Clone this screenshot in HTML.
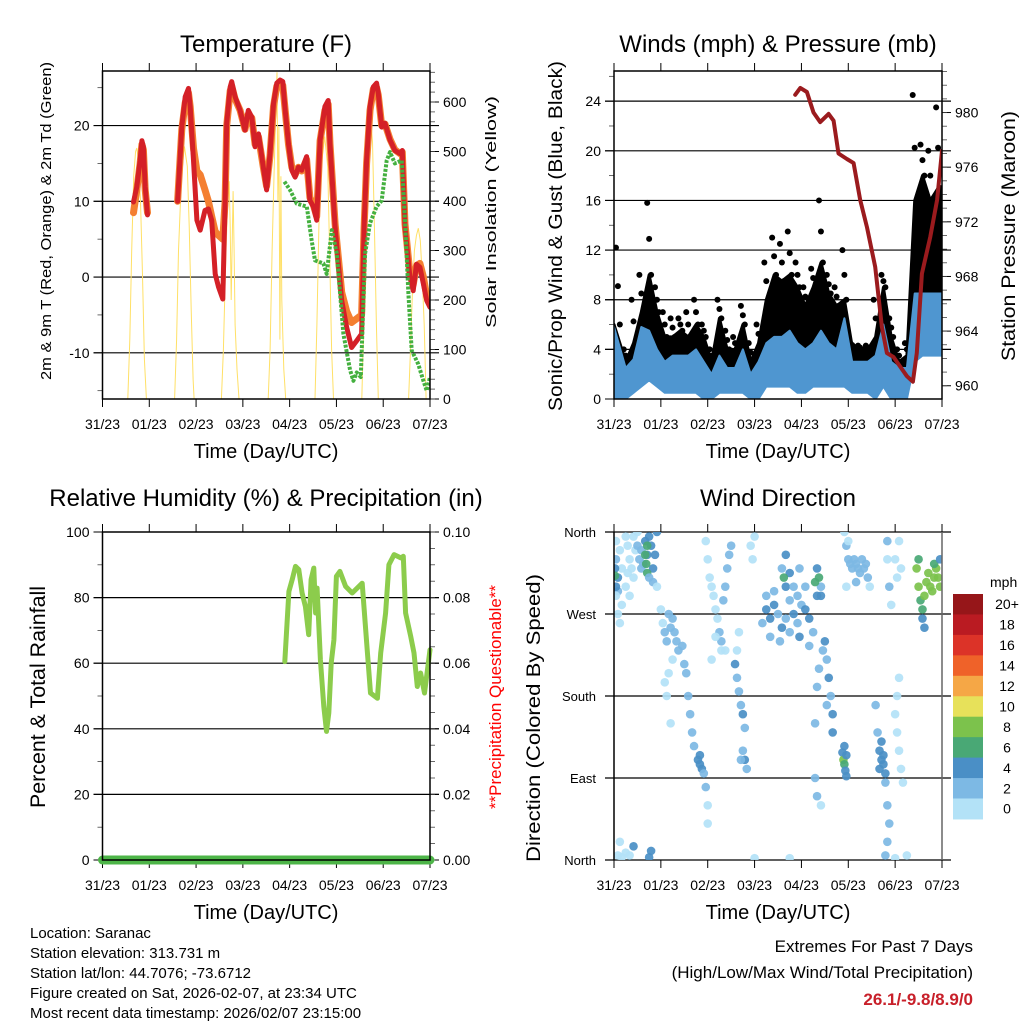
<!DOCTYPE html>
<html><head><meta charset="utf-8"><style>
html,body{margin:0;padding:0;background:#fff;}
svg{display:block;font-family:"Liberation Sans",Arial,sans-serif;}
</style></head><body>
<svg id="chart" width="1024" height="1024" viewBox="0 0 1024 1024" xmlns="http://www.w3.org/2000/svg">
<defs>
<clipPath id="c1"><rect x="102.5" y="71" width="327.5" height="328"/></clipPath>
<clipPath id="c2"><rect x="614" y="71" width="328" height="328"/></clipPath>
<clipPath id="c3"><rect x="90" y="520" width="352" height="352"/></clipPath>
<clipPath id="c4"><rect x="614" y="532" width="328" height="328"/></clipPath>
</defs>
<text x="266" y="52" font-size="24" text-anchor="middle">Temperature (F)</text>
<text x="778" y="52" font-size="24" text-anchor="middle">Winds (mph) &amp; Pressure (mb)</text>
<text x="266" y="506" font-size="24" text-anchor="middle">Relative Humidity (%) &amp; Precipitation (in)</text>
<text x="778" y="506" font-size="24" text-anchor="middle">Wind Direction</text>

<text transform="translate(51,221) rotate(-90)" font-size="15" text-anchor="middle" textLength="318" lengthAdjust="spacingAndGlyphs">2m &amp; 9m T (Red, Orange) &amp; 2m Td (Green)</text>
<text transform="translate(496,212) rotate(-90)" font-size="15" text-anchor="middle" textLength="232" lengthAdjust="spacingAndGlyphs">Solar Insolation (Yellow)</text>
<text transform="translate(562,236) rotate(-90)" font-size="19" text-anchor="middle" textLength="350" lengthAdjust="spacingAndGlyphs">Sonic/Prop Wind &amp; Gust (Blue, Black)</text>
<text transform="translate(1015,236) rotate(-90)" font-size="19" text-anchor="middle" textLength="250" lengthAdjust="spacingAndGlyphs">Station Pressure (Maroon)</text>
<text transform="translate(45,697) rotate(-90)" font-size="21" text-anchor="middle" textLength="222" lengthAdjust="spacingAndGlyphs">Percent &amp; Total Rainfall</text>
<text transform="translate(501,697) rotate(-90)" font-size="17" fill="#ff0000" text-anchor="middle" textLength="224" lengthAdjust="spacingAndGlyphs">**Precipitation Questionable**</text>
<text transform="translate(540,718) rotate(-90)" font-size="19" text-anchor="middle" textLength="288" lengthAdjust="spacingAndGlyphs">Direction (Colored By Speed)</text>

<text x="266" y="458" font-size="20" text-anchor="middle">Time (Day/UTC)</text>
<text x="778" y="458" font-size="20" text-anchor="middle">Time (Day/UTC)</text>
<text x="266" y="919" font-size="20" text-anchor="middle">Time (Day/UTC)</text>
<text x="778" y="919" font-size="20" text-anchor="middle">Time (Day/UTC)</text>

<g font-size="15">
<text x="30" y="938">Location: Saranac</text>
<text x="30" y="958">Station elevation: 313.731 m</text>
<text x="30" y="978">Station lat/lon: 44.7076; -73.6712</text>
<text x="30" y="998">Figure created on Sat, 2026-02-07, at 23:34 UTC</text>
<text x="30" y="1018">Most recent data timestamp: 2026/02/07 23:15:00</text>
</g>
<g text-anchor="end">
<text x="973" y="952" font-size="17">Extremes For Past 7 Days</text>
<text x="973" y="978" font-size="17">(High/Low/Max Wind/Total Precipitation)</text>
<text x="973" y="1005" font-size="17" font-weight="bold" fill="#c8202a">26.1/-9.8/8.9/0</text>
</g>
</svg>
<script>
const dayLabels=['31/23','01/23','02/23','03/23','04/23','05/23','06/23','07/23'];
// Temperature (F)
const tH=[15.9,17.6,19.3,20.2,21,21.9,23.1,30,38.5,40.7,42.4,44.1,45,46.7,48.4,50.1,52.6,54.3,56,57.8,59.5,61.7,62.9,63.7,65.5,66.3,68,70.6,73.1,74.8,76.6,78.3,80,82.5,84.2,85.9,87.7,89.4,91.1,92.5,93.7,95.4,97.1,98.8,100.5,102.2,104.7,106.4,108.2,109.9,111.6,114.1,115.8,116.7,119.3,122.7,125.2,127.8,130.4,132.9,134.2,135.5,137.2,138.9,140.6,141.5,143.2,144.9,147.5,150,152.6,153.8,155.2,157.7,159.4,161.1,162.8,164.6,166.3,168];
const tRed=[9.9,11.9,15.4,18,17.2,11.9,8.2,null,10,19.8,23.8,24.9,22.5,15.4,7.5,6.2,8.8,9,7.5,0.4,-1.3,-2.9,10.1,20.3,25.1,25.8,23.8,22,19.4,22,21.1,17.2,18.9,14.5,11.5,16.3,22.9,25.6,26,25.8,22,17.6,14.1,13.2,14.5,14.1,15.9,10.1,9.3,7.5,18.1,22.5,23.3,17.6,6.6,-3.1,-6.6,-9.3,-8.4,-7.5,6.6,15.4,22.5,25.1,25.6,24.2,19.8,20.3,18.1,16.7,16.3,16.7,6.6,0,-1.8,1.7,1.3,-0.9,-3.1,-4];
const tOrange=[8.5,11.5,15,17.5,16.8,11.5,8.5,null,10,19.5,23,24.3,22.5,17,14,13.5,11.5,10,8,6,5.5,5,10,20,24.6,25.2,23.5,22,19.5,21.5,21,17.5,18.5,14.5,12,16,22.5,25.2,25.5,25.3,22,17.5,14.5,13.5,14.5,14,15.5,10.5,9.5,8,18,22,22.8,17.6,7,-2,-4.5,-6,-5.5,-5,6.5,15,22,24.8,25,24,20,20.2,18.2,16.8,16.3,16.5,7,0.5,-1,1.5,1.8,0,-2.5,-3.5];
const gH=[93.3,96.2,99.6,104.8,107.3,109,113.3,115,117.6,120.2,123.6,127,128.7,130.4,132.5,134.7,137.2,140.6,143.2,145.8,147.5,150,153.5,155.2,156.9,158.6,162,164.6,166.3,168];
const gV=[12.6,11.5,9.7,9.3,4.8,2.2,1.8,0.4,6.2,3.1,-7.5,-12.3,-13.7,-12.6,-13.2,3.1,7.1,9.3,10.1,15.4,16.5,15,15.4,7.5,-2.2,-9.7,-11.5,-13.7,-15,-13.2];
// Solar insolation (W/m2)
const solarH=[0,13,14,15,16,17,17.6,18.5,19.5,20.5,21.5,22.5,37,38,39,40.5,42,43.5,44.5,45.5,46.5,47,61,62,63,64,65,65.5,66,67,67.5,68,69,70,85,86,87,88,89,89.5,90,90.5,91,91.5,92,93,94,109,110,111,112.5,114,115.5,116.5,117.5,118.5,133,134,135,136,137.2,138.5,139.5,140.5,141.5,157,158,159,160,161,162,163,164,165,166,168];
const solarV=[0,0,120,300,450,500,507,480,400,250,80,0,0,120,300,450,510,470,350,180,40,0,0,100,250,380,440,350,200,420,300,150,60,0,0,100,300,450,600,660,400,550,120,450,200,60,0,0,150,350,480,530,470,300,100,0,0,150,350,500,584,520,350,150,0,0,100,220,300,330,345,320,250,150,0,0];
// Winds (mph), 4-hour bins
const gustHi=[6,3,4.5,7,10,7,5,5,5.5,5,6,5,3,6.5,4,4,6,3,4.5,8,10,9.5,10,9,7.5,9,11,8.5,7.5,8,4.2,4,4,5,9,5,3,3.5,16,18,16,17];
const gustLo=[1.5,0.8,1.5,2.5,4,2.5,1.5,2,2,2,2.5,1,0.5,2.5,1.5,1.5,2,0.3,1,3,3,3,3,2.5,2.5,3,3,3,2.5,3,2.5,2.5,2.5,2,3,1.5,0.5,1,6,8,7,7];
const gustPeak=[12.2,4,8,10,15.8,9,7,6.5,6.5,7,8,6,4,8,5.5,5,7.5,4.5,6,11,13,12.5,13.5,11,9,10.5,16,10,9,12,4.5,4.3,4.3,8,10,6.5,4,4.5,24.5,20.5,20,23.5];
const windHi=[5.8,2.5,3.2,5.8,5.5,4,3,3.5,3.5,3.5,4,3,2,3.5,2.5,2.5,4,2,3,4.5,5,5,5.5,4.5,4,4.5,5.5,4.5,4,6.5,3,3,3,3.5,6,3,2.5,2.5,8.5,8.5,8.5,8.5];
const windLo=[0,0,0.5,1,1.5,1,0.5,0.5,0.5,0.5,0.5,0,0,0.5,0.5,0.5,0.5,0,0,1,1,1,1,0.5,0.5,1,1,1,1,1,0.5,0.5,0.5,0,1,0,0,0,3,3.5,3.5,3.5];
// Station pressure (mb)
const pH=[92.8,95.4,98.8,102.2,105.6,109.9,112.5,115,119.3,122.7,126.1,129.6,133.8,137.2,139.8,143.2,146.6,150,153.1,155.1,157.7,162,165.5,168];
const pV=[981.3,981.8,981.5,980,979.3,979.9,979.4,977,976.6,976.3,973.6,971.6,968.7,964.3,962.4,962.1,961.4,960.7,960.3,962.4,968.2,970.9,973.6,977.2];
// Relative humidity (%)
const rhH=[93.5,95.6,97.3,99,100.7,102.4,104.1,105.8,107,108.4,109.3,110.1,111.8,113.5,114.9,116.1,117.3,118.7,120,121.8,124.7,128.1,133.2,135.8,137.5,141,142.7,145.2,146.9,149.6,153,154.3,155.5,158.1,159.8,161.5,163.2,165.2,166.9,168];
const rhV=[60.5,81.9,85.5,89.5,88.5,81.4,77.3,68.7,85.5,89,75.3,82.9,61,46.8,39.2,44.8,60,67.1,86.5,88,83.4,81.4,84.4,64.1,50.9,49.3,63.1,75.3,90,93.1,92.1,92.6,75.3,68.2,63.1,52.9,57,50.9,59,64.1];
const precipH=[0,168];
const precipV=[0,0];
// Wind direction observations: [hour, degrees, mph]
const dirObs=[[1,350,1],[1,330,3],[2,310,4],[2,295,3],[3,340,1],[4,320,1],[4,280,1],[1,300,4],[0.5,320,4],[1,290,1],[2,270,1],[3,260,1],[0.5,312,7],
[6,355,1],[7,345,1],[8,330,1],[9,320,1],[10,310,1],[6,300,1],[8,290,1],[10,355,1],[11,340,1],[12,360,1],[7,315,1],
[12,345,3],[13,330,3],[14,340,3],[15,325,3],[16,350,4],[17,335,4],[18,355,4],[19,345,4],[20,320,4],[21,335,4],[22,360,4],[14,320,3],[16,335,6],[16.5,325,6],[17,315,6],[18,310,3],[20,305,3],[22,300,1],[17,345,6],
[24,275,1],[25,260,1],[26,250,2],[27,240,2],[28,270,2],[29,255,2],[30,265,2],[31,250,3],[32,240,2],[33,230,2],[30,220,1],[28,205,1],[26,195,1],[35,235,2],[36,215,2],[37,205,2],[38,180,2],[39,160,2],[40,140,2],[41,125,2],[43,110,4],[44,105,4],[45,100,4],[44,115,4],[46,95,3],[47,80,2],[48,60,1],[48,40,1],[27,180,1],[29,150,1],
[47,350,1],[48,330,1],[49,310,1],[50,300,1],[51,290,1],[52,275,1],[53,265,1],[54,250,2],[55,240,2],[56,285,2],[57,300,2],[58,320,2],[59,335,2],[60,345,2],[55,230,1],[50,220,1],[52,245,1],[57,230,1],
[62,215,4],[63,200,3],[64,185,3],[65,170,3],[66,160,4],[67,145,3],[66,120,3],[67,110,4],[68,100,3],[65,110,3],[63,230,1],[64,250,1],
[70,345,1],[71,330,1],[72,355,1],
[76,260,3],[78,275,4],[80,265,4],[82,280,4],[84,270,3],[86,255,4],[88,265,3],[90,285,3],[92,270,4],[94,260,3],[96,280,3],[98,275,4],[100,265,4],[102,250,3],[104,290,4],[106,300,3],[80,245,3],[85,240,3],[90,250,3],[95,245,4],[100,235,3],[88,300,4],[90,315,4],[92,300,3],[94,290,3],[86,320,3],[88,335,4],[87,310,6],[103,305,6],[104,320,4],[105,310,6],[106,290,4],[78,290,3],[82,295,2],[98,300,3],[95,320,2],
[108,240,4],[109,220,3],[110,200,4],[111,180,3],[112,160,4],[112,140,4],[109,170,3],[107,230,2],[105,210,2],[104,190,2],[103,150,2],[103,90,2],[104,70,2],[106,60,1],
[117,118,4],[117.5,110,8],[118,105,6],[118.5,98,4],[119,115,4],[118,125,4],[119,92,4],
[119,345,2],[120,330,2],[121,325,2],[122,320,2],[123,330,2],[124,325,2],[125,320,2],[126,315,2],[127,330,2],[128,320,2],[129,325,2],[130,310,2],[131,300,1],[120,350,1],[118,360,1],[119,300,1],[124,305,2],
[136,120,4],[137,110,4],[138,105,4],[139,95,4],[137,130,4],[138,115,4],[136,100,4],[135,140,3],[134,170,2],[139,85,2],[140,60,2],[141,40,2],[140,20,2],[139,5,2],[140,350,2],[140,330,1],[141,300,2],[142,280,1],
[144,160,1],[145,140,1],[146,120,1],[147,100,1],[148,85,1],[145,180,1],[146,200,1],[144,330,1],[145,310,1],[146,350,1],[147,320,1],
[155,320,8],[156,300,8],[157,285,6],[158,275,6],[159,290,8],[160,305,8],[161,315,8],[162,300,8],[163,295,8],[164,310,8],[165,320,8],[166,310,8],[167,300,8],[158,265,4],[159,255,4],[156,330,6],[164,325,6],[167,330,4],
[2,5,1],[4,3,1],[6,8,1],[10,15,4],[18,3,4],[19,10,4],[3,20,1],[8,5,1],[72,2,1],[90,2,1],[144,2,1],[150,5,1]];
const speedLabels=['0','2','4','6','8','10','12','14','16','18','20+'];
const speedColors=['#b3e2f7','#7db9e4','#4a8fc6','#49a875','#7cc24c','#e7e15a','#f5a746','#ef6229','#dc3328','#ba1b22','#961619'];

const NS='http://www.w3.org/2000/svg';
const svg=document.getElementById('chart');
function el(tag,attrs,parent){const e=document.createElementNS(NS,tag);for(const k in attrs)e.setAttribute(k,attrs[k]);(parent||svg).appendChild(e);return e;}

const P1={L:102.5,R:430,T:71,B:399,ymin:-16.1,ymax:27.2,r2min:0,r2max:662.6};
const P2={L:614,R:942,T:71,B:399,ymin:0,ymax:26.43,r2min:959.03,r2max:983.04};
const P3={L:102.5,R:430,T:532,B:860,ymin:0,ymax:100,r2min:0,r2max:0.1};
const P4={L:614,R:942,T:532,B:860,ymin:0,ymax:360};
function X(P,h){return P.L+h*(P.R-P.L)/168;}
function Y(P,v){return P.B-(v-P.ymin)*(P.B-P.T)/(P.ymax-P.ymin);}
function Y2(P,v){return P.B-(v-P.r2min)*(P.B-P.T)/(P.r2max-P.r2min);}

function frame(P,name,grid,leftMajor,leftMinor,leftLab,rightMajor,rightMinor,rightLab,yf,y2f){
  const g=el('g',{});
  
  
  grid.forEach(v=>{
    const l=el('line',{x1:P.L-9,x2:P.R+9,y1:yf(v),y2:yf(v),stroke:'#000','stroke-width':1.2},g);
    
    
  });
  leftMajor.forEach((v,i)=>{
    const t=el('line',{x1:P.L-9,x2:P.L,y1:yf(v),y2:yf(v),stroke:'#000','stroke-width':1},g);
    
    
    const tx=el('text',{x:P.L-13,y:yf(v)+5,'font-size':14,'text-anchor':'end'},g);
    tx.textContent=leftLab[i];
    
    
  });
  leftMinor.forEach(v=>{
    const t=el('line',{x1:P.L-5,x2:P.L,y1:yf(v),y2:yf(v),stroke:'#444','stroke-width':0.8},g);
    
    
  });
  rightMajor.forEach((v,i)=>{
    const t=el('line',{x1:P.R,x2:P.R+9,y1:y2f(v),y2:y2f(v),stroke:'#000','stroke-width':1},g);
    
    
    const tx=el('text',{x:P.R+13,y:y2f(v)+5,'font-size':14},g);
    tx.textContent=rightLab[i];
    
    
  });
  rightMinor.forEach(v=>{
    const t=el('line',{x1:P.R,x2:P.R+5,y1:y2f(v),y2:y2f(v),stroke:'#444','stroke-width':0.8},g);
    
    
  });
  dayLabels.forEach((d,i)=>{
    const x=X(P,i*24);
    const t1=el('line',{x1:x,x2:x,y1:P.T-8,y2:P.T,stroke:'#000','stroke-width':1},g);
    
    
    const t2=el('line',{x1:x,x2:x,y1:P.B,y2:P.B+8,stroke:'#000','stroke-width':1},g);
    
    
    const tx=el('text',{x:x,y:P.B+30,'font-size':14,'text-anchor':'middle'},g);
    tx.textContent=d;
    
    
  });
  return g;
}
function boxOutline(P,name){
  const r=el('rect',{x:P.L,y:P.T,width:P.R-P.L,height:P.B-P.T,fill:'none',stroke:'#000','stroke-width':1.5});
  
  
}
function pathFrom(P,hs,vs,yf){
  let d='',pen=false;
  for(let i=0;i<hs.length;i++){
    if(vs[i]===null){pen=false;continue;}
    d+=(pen?'L':'M')+X(P,hs[i]).toFixed(1)+','+yf(vs[i]).toFixed(1);pen=true;
  }
  return d;
}
function range(a,b,s){const r=[];for(let v=a;v<=b+1e-9;v+=s)r.push(+v.toFixed(4));return r;}

// Panel 1
frame(P1,'temperature',[20,10,0,-10],[20,10,0,-10],[25,15,5,-5,-15],['20','10','0','-10'],range(0,600,100),range(0,660,20),['0','100','200','300','400','500','600'],v=>Y(P1,v),v=>Y2(P1,v));
const g1=el('g',{'clip-path':'url(#c1)'});


const solar=el('path',{d:pathFrom(P1,solarH,solarV,v=>Y2(P1,v)),fill:'none',stroke:'#ffe066','stroke-width':1},g1);


const orange=el('path',{d:pathFrom(P1,tH,tOrange,v=>Y(P1,v)),fill:'none',stroke:'#f47f31','stroke-width':7,'stroke-linejoin':'round','stroke-linecap':'round'},g1);


const red=el('path',{d:pathFrom(P1,tH,tRed,v=>Y(P1,v)),fill:'none',stroke:'#d42027','stroke-width':5,'stroke-linejoin':'round','stroke-linecap':'round'},g1);


const green=el('path',{d:pathFrom(P1,gH,gV,v=>Y(P1,v)),fill:'none',stroke:'#44b03f','stroke-width':4,'stroke-dasharray':'3 1.5','stroke-linejoin':'round'},g1);


boxOutline(P1,'temperature');

// Panel 2
frame(P2,'winds',[4,8,12,16,20,24],[0,4,8,12,16,20,24],range(2,26,2).filter(v=>v%4),['0','4','8','12','16','20','24'],[960,964,968,972,976,980],range(960,983,1),['960','964','968','972','976','980'],v=>Y(P2,v),v=>Y2(P2,v));
const g2=el('g',{'clip-path':'url(#c2)'});


function band(hiA,loA){
  let d='';
  hiA.forEach((v,i)=>{d+=(i?'L':'M')+X(P2,i*4+(i===0?0:2)).toFixed(1)+','+Y(P2,v).toFixed(1);});
  d+='L'+X(P2,168)+','+Y(P2,hiA[hiA.length-1]).toFixed(1);
  d+='L'+X(P2,168)+','+Y(P2,loA[loA.length-1]).toFixed(1);
  for(let i=loA.length-1;i>=0;i--){d+='L'+X(P2,i*4+(i===0?0:2)).toFixed(1)+','+Y(P2,loA[i]).toFixed(1);}
  return d+'Z';
}
const gustBand=el('path',{d:band(gustHi,gustLo),fill:'#000',stroke:'#000','stroke-width':3,'stroke-linejoin':'round'},g2);


gustPeak.forEach((v,i)=>{
  const hs=[i*4+1,i*4+2,i*4+3];
  const vs=[v,(v+gustHi[i])/2,gustHi[i]];
  hs.forEach((h,j)=>{
    const c=el('circle',{cx:X(P2,h),cy:Y(P2,vs[j]),r:3,fill:'#000'},g2);
    
    
  });
});
const windBand=el('path',{d:band(windHi,windLo),fill:'#4f96d0',stroke:'#4f96d0','stroke-width':2,'stroke-linejoin':'round'},g2);


const pres=el('path',{d:pathFrom(P2,pH,pV,v=>Y2(P2,v)),fill:'none',stroke:'#9b1b1e','stroke-width':4,'stroke-linejoin':'round','stroke-linecap':'round'},g2);


boxOutline(P2,'winds');

// Panel 3
frame(P3,'humidity',[20,40,60,80],[0,20,40,60,80,100],[10,30,50,70,90],['0','20','40','60','80','100'],[0,0.02,0.04,0.06,0.08,0.1],range(0,0.1,0.005),['0.00','0.02','0.04','0.06','0.08','0.10'],v=>Y(P3,v),v=>Y2(P3,v));
const g3=el('g',{'clip-path':'url(#c3)'});


const rh=el('path',{d:pathFrom(P3,rhH,rhV,v=>Y(P3,v)),fill:'none',stroke:'#8ccc4c','stroke-width':5,'stroke-linejoin':'round','stroke-linecap':'round'},g3);


boxOutline(P3,'humidity');
const pr=el('path',{d:pathFrom(P3,precipH,precipV,v=>Y2(P3,v)),fill:'none',stroke:'#4db548','stroke-width':9,'stroke-linecap':'round'},g3);



// Panel 4
const g4a=el('g',{});


[360,270,180,90,0].forEach((v,i)=>{
  const l=el('line',{x1:P4.L-9,x2:P4.R+9,y1:Y(P4,v),y2:Y(P4,v),stroke:'#000','stroke-width':1.2},g4a);
  
  
  const t=el('text',{x:P4.L-18,y:Y(P4,v)+5,'font-size':13,'text-anchor':'end'},g4a);
  t.textContent=['North','West','South','East','North'][i];
  
  
});
dayLabels.forEach((d,i)=>{
  const x=X(P4,i*24);
  const t1=el('line',{x1:x,x2:x,y1:P4.T-8,y2:P4.T,stroke:'#000'},g4a);
  
  
  const t2=el('line',{x1:x,x2:x,y1:P4.B,y2:P4.B+8,stroke:'#000'},g4a);
  
  
  const tx=el('text',{x:x,y:P4.B+30,'font-size':14,'text-anchor':'middle'},g4a);
  tx.textContent=d;
  
  
});
const g4=el('g',{'clip-path':'url(#c4)'});


dirObs.forEach(o=>{
  const ci=Math.min(10,Math.floor(o[2]/2));
  const c=el('circle',{cx:X(P4,o[0]),cy:Y(P4,o[1]),r:4.3,fill:speedColors[ci],'fill-opacity':0.92},g4);
  
  
});
const fr4=el('line',{x1:P4.L,x2:P4.L,y1:P4.T,y2:P4.B,stroke:'#000','stroke-width':1.5});


const fr4r=el('line',{x1:P4.R,x2:P4.R,y1:P4.T,y2:P4.B,stroke:'#666','stroke-width':1.5});



// Colorbar
const cb=el('g',{});


const cbTop=594,cbH=20.45;
const mph=el('text',{x:990,y:587,'font-size':14},cb);
mph.textContent='mph';


for(let k=10;k>=0;k--){
  const row=10-k;
  const r=el('rect',{x:953,y:cbTop+row*cbH,width:30,height:cbH+0.5,fill:speedColors[k]},cb);
  
  
  const t=el('text',{x:1007,y:cbTop+row*cbH+cbH/2+5,'font-size':14,'text-anchor':'middle'},cb);
  t.textContent=speedLabels[k];
  
  
}
</script>
</body></html>
